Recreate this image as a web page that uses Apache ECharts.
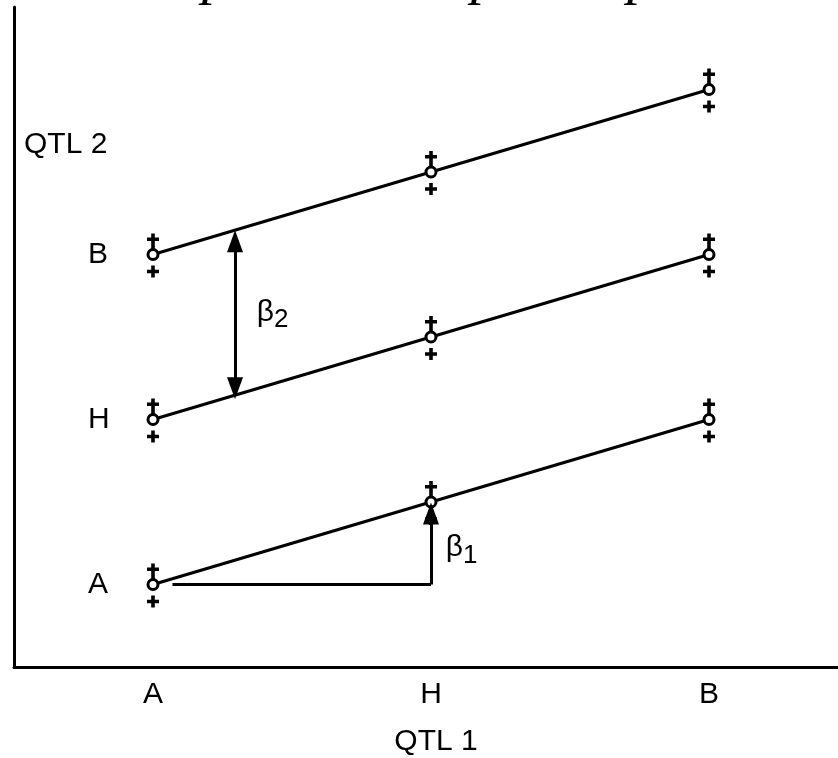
<!DOCTYPE html>
<html>
<head>
<meta charset="utf-8">
<script src="https://cdn.jsdelivr.net/npm/echarts@6/dist/echarts.min.js"></script>
<style>
  html, body { margin: 0; padding: 0; background: #fff; }
  #chart { width: 838px; height: 758px; }
</style>
</head>
<body>
<div id="chart"></div>
<script>
// genotype labels on both axes
const qtl1Labels = ['A', 'H', 'B'];
const qtl2Labels = ['A', 'H', 'B'];
const qtl1Pos = [0, 1, 2];

// average phenotype for each QTL 2 genotype across QTL 1 genotypes A, H, B
const meansA = [0, 0.5, 1.0];
const meansH = [1.0, 1.5, 2.0];
const meansB = [2.0, 2.5, 3.0];

// effect arrows (data units)
const beta1Path = [[0.07, 0], [1, 0], [1, 0.43]];
const beta2Ends = [[0.295, 2.08], [0.295, 1.19]];
const beta1Label = [1.11, 0.22];
const beta2Label = [0.43, 1.65];

const FONT = 'Liberation Sans';
const plusTop = 'path://M3.5,0H6.5V3.5H10V6.5H6.5V14H3.5V6.5H0V3.5H3.5Z';
const plusBot = 'path://M3.5,0H6.5V3.5H10V6.5H6.5V10H3.5V6.5H0V3.5H3.5Z';

const rows = [meansA, meansH, meansB];
const allPts = [];
rows.forEach(r => r.forEach((v, i) => allPts.push([qtl1Pos[i], v])));

function lineSeries(vals) {
  return {
    type: 'line',
    data: vals.map((v, i) => [qtl1Pos[i], v]),
    symbol: 'none',
    lineStyle: { color: '#000', width: 3 },
    emphasis: { disabled: true },
    silent: true,
    z: 2
  };
}

const chart = echarts.init(document.getElementById('chart'));

chart.setOption({
  animation: false,
  backgroundColor: '#fff',
  textStyle: { fontFamily: FONT },
  // title sits mostly above the canvas, only the descenders show
  graphic: [{
    type: 'text',
    left: 70,
    top: -51,
    style: {
      text: 'Example in a simple map',
      font: 'italic 58px "Liberation Serif"',
      fill: '#000'
    }
  }],
  grid: { left: 14, right: 0, top: 7, bottom: 91, outerBoundsMode: 'none' },
  xAxis: {
    type: 'value',
    min: -0.5,
    max: 2.464,
    interval: 0.5,
    splitLine: { show: false },
    axisTick: { show: false },
    axisLine: { onZero: false, lineStyle: { color: '#000', width: 3 } },
    axisLabel: {
      color: '#000',
      fontSize: 30,
      fontFamily: FONT,
      margin: 13,
      formatter: v => (Number.isInteger(v) && v >= 0 && v <= 2) ? qtl1Labels[v] : ''
    },
    name: 'QTL 1',
    nameLocation: 'middle',
    nameGap: 60,
    nameTextStyle: { color: '#000', fontSize: 30, fontFamily: FONT, padding: [0, 0, 0, 20] }
  },
  yAxis: {
    type: 'value',
    min: -0.5,
    max: 3.5,
    interval: 0.5,
    splitLine: { show: false },
    axisTick: { show: false },
    axisLine: { onZero: false, lineStyle: { color: '#000', width: 3 } },
    axisLabel: {
      inside: true,
      margin: 74,
      color: '#000',
      fontSize: 30,
      fontFamily: FONT,
      formatter: v => (Number.isInteger(v) && v >= 0 && v <= 2) ? qtl2Labels[v] : ''
    },
    name: 'QTL 2',
    nameLocation: 'end',
    nameGap: -138,
    nameTextStyle: { color: '#000', fontSize: 30, fontFamily: FONT, align: 'left', verticalAlign: 'middle', padding: [0, 0, 0, 10] }
  },
  series: [
    lineSeries(meansA),
    lineSeries(meansH),
    lineSeries(meansB),
    {
      type: 'scatter',
      data: allPts,
      symbol: 'circle',
      symbolSize: 10,
      itemStyle: { color: '#fff', borderColor: '#000', borderWidth: 3, opacity: 1 },
      silent: true,
      z: 4
    },
    {
      type: 'scatter',
      data: allPts,
      symbol: plusTop,
      symbolSize: [12, 16],
      symbolOffset: [0, -13],
      itemStyle: { color: '#000', opacity: 1 },
      silent: true,
      z: 3
    },
    {
      type: 'scatter',
      data: allPts,
      symbol: plusBot,
      symbolSize: [12, 12],
      symbolOffset: [0, 17],
      itemStyle: { color: '#000', opacity: 1 },
      silent: true,
      z: 3,
      markLine: {
        silent: true,
        symbol: ['none', 'none'],
        lineStyle: { color: '#000', width: 3, type: 'solid', opacity: 1 },
        label: { show: false },
        data: [
          [{ coord: beta1Path[0] }, { coord: beta1Path[1] }],
          [{ coord: beta1Path[1] }, { coord: beta1Path[2], symbol: 'triangle', symbolSize: [16, 22] }],
          [{ coord: beta2Ends[0], symbol: 'triangle', symbolSize: [16, 22] },
           { coord: beta2Ends[1], symbol: 'triangle', symbolSize: [16, 22] }]
        ]
      }
    },
    {
      type: 'scatter',
      data: [beta1Label, beta2Label],
      symbolSize: 0,
      silent: true,
      itemStyle: { opacity: 1 },
      label: {
        show: true,
        position: 'inside',
        color: '#000',
        formatter: p => p.dataIndex === 0 ? '{b|β}{s|1}' : '{b|β}{s|2}',
        rich: {
          b: { fontSize: 30, fontFamily: FONT, color: '#000' },
          s: { fontSize: 26, fontFamily: FONT, color: '#000', padding: [16, 0, 0, 0] }
        }
      }
    }
  ]
});
</script>
</body>
</html>
